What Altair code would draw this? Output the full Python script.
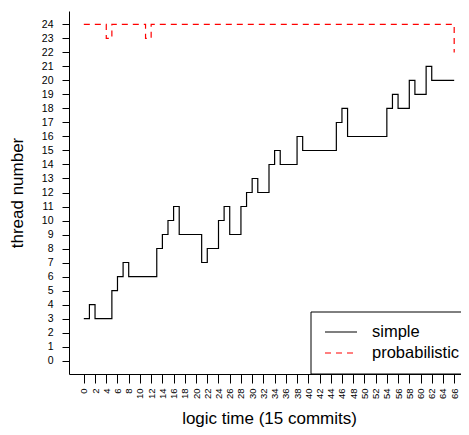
import altair as alt
import pandas as pd

# ---- data ----
simple_t = [0, 1, 2, 5, 6, 7, 8, 13, 14, 15, 16, 17, 21, 22, 24, 25, 26, 28, 29, 30, 31,
            33, 34, 35, 38, 39, 45, 46, 47, 54, 55, 56, 58, 59, 61, 62, 66]
simple_n = [3, 4, 3, 5, 6, 7, 6, 8, 9, 10, 11, 9, 7, 8, 10, 11, 9, 11, 12, 13, 12,
            14, 15, 14, 16, 15, 17, 18, 16, 18, 19, 18, 20, 19, 21, 20, 20]
prob_t = [0, 4, 5, 11, 12, 66]
prob_n = [24, 23, 24, 23, 24, 22]

series = ["simple", "probabilistic"]
series_colors = ["#000000", "#FF0000"]
series_dash = [[1, 0], [6, 5]]
x_ticks = list(range(0, 67, 2))
y_ticks = list(range(0, 25))

df = pd.concat([
    pd.DataFrame({"t": simple_t, "n": simple_n, "series": series[0]}),
    pd.DataFrame({"t": prob_t, "n": prob_n, "series": series[1]}),
], ignore_index=True)

# plot region: x runs from -2.64 at the left edge; the page cuts it at the right
UNIT = 400 / 71.28
W, H = 392, 363
FONT = "Liberation Sans"

xscale = alt.Scale(domain=[-2.64, -2.64 + W / UNIT], nice=False, zero=False)
yscale = alt.Scale(domain=[-0.96, 24.96], nice=False, zero=False)

lines = alt.Chart(df).mark_line(interpolate="step-after", strokeWidth=1.2).encode(
    x=alt.X("t:Q", scale=xscale, axis=alt.Axis(
        values=x_ticks, labelAngle=270, labelFontSize=9.5, labelFont=FONT,
        tickSize=9, labelPadding=5, labelOverlap=False, labelFlush=False,
        title="logic time (15 commits)", titleFontSize=17, titleFont=FONT,
        titleFontWeight="normal", titleX=200, titleY=44, titleBaseline="middle",
        grid=False, domainColor="black", tickColor="black", labelColor="black",
        titleColor="black")),
    y=alt.Y("n:Q", scale=yscale, axis=alt.Axis(
        values=y_ticks, labelFontSize=10.5, labelFont=FONT, tickSize=7,
        labelPadding=9, labelOverlap=False, labelFlush=False,
        title="thread number", titleFontSize=17, titleFont=FONT,
        titleFontWeight="normal", titleAngle=270, titleX=-52, titleY=H / 2,
        titleAlign="center", titleBaseline="middle",
        grid=False, domainColor="black", tickColor="black", labelColor="black",
        titleColor="black")),
    color=alt.Color("series:N", scale=alt.Scale(domain=series, range=series_colors), legend=None),
    strokeDash=alt.StrokeDash("series:N", scale=alt.Scale(domain=series, range=series_dash), legend=None),
    detail="series:N",
)

# ---- boxed legend (bottom right, as in the reference) ----
box = alt.Chart(pd.DataFrame({"k": [0]})).mark_rect(
    fill="white", stroke="black", strokeWidth=1).encode(
    x=alt.value(242), x2=alt.value(W + 6), y=alt.value(301), y2=alt.value(363))

legend_layers = [box]
for i, s in enumerate(series):
    row = pd.DataFrame({"series": [s]})
    yy = 321 + 21 * i
    legend_layers.append(
        alt.Chart(row).mark_rule(color=series_colors[i], strokeWidth=1.2,
                                 strokeDash=series_dash[i]).encode(
            x=alt.value(256), x2=alt.value(288), y=alt.value(yy)))
    legend_layers.append(
        alt.Chart(row).mark_text(align="left", baseline="middle", fontSize=16.5,
                                 font=FONT, color="black").encode(
            x=alt.value(303), y=alt.value(yy), text="series:N"))

chart = alt.layer(lines, *legend_layers).properties(
    width=W, height=H,
    autosize=alt.AutoSizeParams(type="none"),
    padding={"left": 61, "top": 3, "right": 0, "bottom": 53},
    background="white",
).configure_view(stroke=None)

chart.save("out.html", embed_options={"renderer": "svg", "actions": False})
